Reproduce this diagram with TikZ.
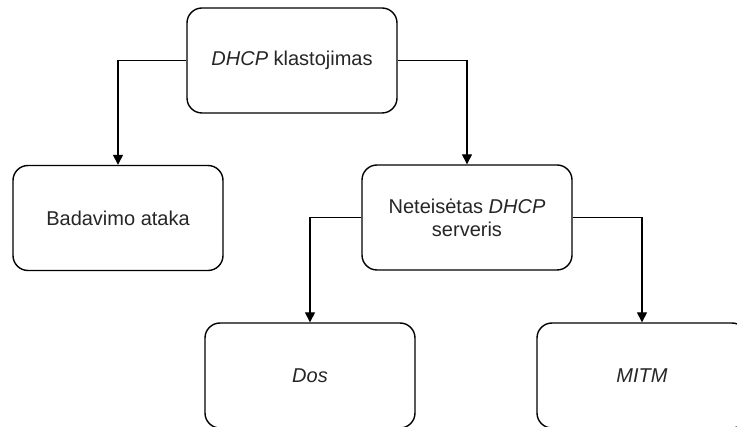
\documentclass[tikz,border=0pt]{standalone}
\usepackage{fontspec}
\setmainfont{Liberation Sans}
\usetikzlibrary{arrows.meta}
\begin{document}
\begin{tikzpicture}[x=1pt,y=-1pt,
  box/.style={draw=black, line width=1.4pt, rounded corners=15pt,
    minimum width=210pt, minimum height=105pt, align=center,
    font=\fontsize{20}{23}\selectfont, text=black!85, inner sep=0pt},
  link/.style={draw=black, line width=1.4pt,
    -{Triangle[length=10pt,width=10pt]}}]
  \useasboundingbox (0,0) rectangle (737,427);
  \clip (0,0) rectangle (737,427);
  \fill[white] (0,0) rectangle (737,427);

  % tree of attack types
  \node[box] (root) at (292,60.5) {\textit{DHCP} klastojimas};
  \node[box] (starve) at (118,218) {Badavimo ataka};
  \node[box] (rogue) at (467,217.5) {Neteisėtas \textit{DHCP}\\serveris};
  \node[box] (dos) at (310,375.5) {\textit{Dos}};
  \node[box] (mitm) at (642,375.5) {\textit{MITM}};

  % connectors
  \draw[link] (root.west) -| (starve.north);
  \draw[link] (root.east) -| (rogue.north);
  \draw[link] (rogue.west) -| (dos.north);
  \draw[link] (rogue.east) -| (mitm.north);
\end{tikzpicture}
\end{document}
